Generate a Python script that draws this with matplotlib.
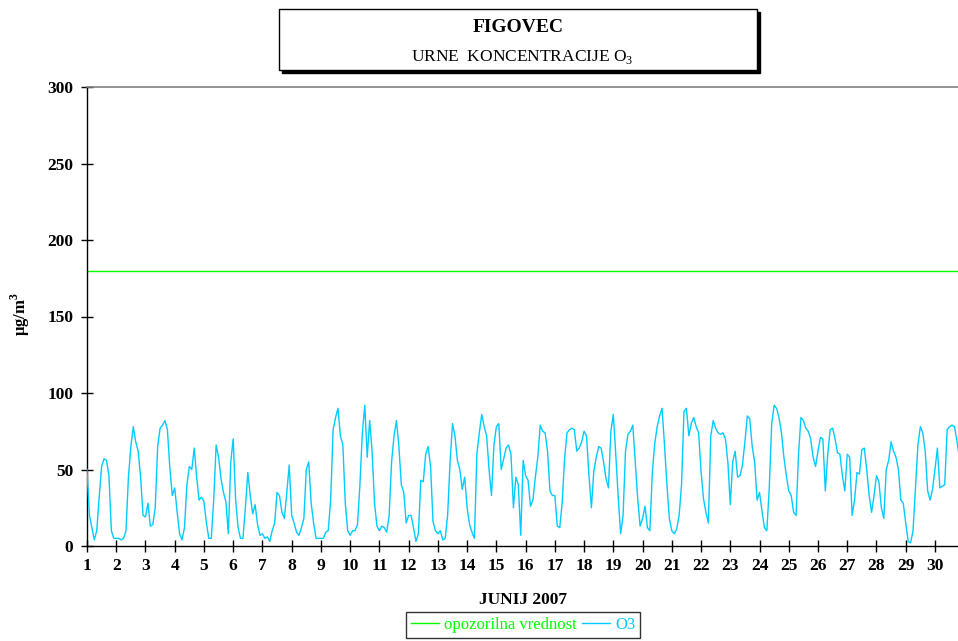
import numpy as np
import matplotlib
matplotlib.use("Agg")
import matplotlib.pyplot as plt
from matplotlib.patches import Rectangle

plt.rcParams['font.family'] = ['Liberation Serif', 'DejaVu Serif']
plt.rcParams['mathtext.fontset'] = 'custom'
plt.rcParams['mathtext.rm'] = 'Liberation Serif'
plt.rcParams['mathtext.bf'] = 'Liberation Serif:bold'

title_main = "FIGOVEC"
title_sub = "URNE  KONCENTRACIJE O$_{3}$"
x_label = "JUNIJ 2007"
y_label = r"µg/m$^{\mathbf{3}}$"
day_ticks = list(range(1, 31))
y_ticks = [0, 50, 100, 150, 200, 250, 300]
alert_value = 180
alert_label = "opozorilna vrednost"
o3_label = "O3"

# O3 concentrations (µg/m3), sampled every 2 hours, one list per day of June 2007
d01 = [50, 20, 12, 4, 10, 32, 52, 57, 56, 46, 10, 5]
d02 = [5, 5, 4, 5, 10, 45, 65, 78, 68, 62, 45, 20]
d03 = [19, 28, 13, 14, 25, 65, 77, 79, 82, 76, 51, 33]
d04 = [38, 22, 8, 4, 12, 40, 52, 50, 64, 45, 30, 32]
d05 = [29, 15, 5, 5, 30, 66, 58, 44, 35, 29, 8, 55]
d06 = [70, 30, 12, 5, 5, 25, 48, 33, 21, 27, 14, 7]
d07 = [8, 5, 6, 3, 10, 15, 35, 33, 22, 18, 35, 53]
d08 = [20, 15, 9, 7, 12, 18, 50, 55, 28, 15, 5, 5]
d09 = [5, 5, 9, 10, 30, 76, 84, 90, 72, 66, 28, 10]
d10 = [7, 10, 10, 14, 40, 74, 92, 58, 82, 62, 28, 13]
d11 = [10, 13, 12, 9, 20, 55, 72, 82, 65, 40, 35, 15]
d12 = [20, 20, 12, 3, 8, 43, 42, 60, 65, 52, 16, 10]
d13 = [8, 10, 4, 5, 20, 55, 80, 72, 56, 50, 37, 45]
d14 = [25, 14, 9, 5, 60, 74, 86, 78, 72, 50, 33, 66]
d15 = [78, 80, 50, 57, 64, 66, 60, 25, 45, 40, 7, 56]
d16 = [46, 43, 26, 30, 45, 58, 79, 75, 74, 62, 36, 33]
d17 = [33, 13, 12, 28, 57, 74, 76, 77, 76, 62, 64, 68]
d18 = [75, 72, 46, 25, 49, 58, 65, 64, 55, 44, 38, 75]
d19 = [86, 60, 32, 8, 20, 62, 73, 75, 79, 55, 31, 13]
d20 = [18, 26, 12, 10, 48, 67, 78, 85, 90, 66, 40, 18]
d21 = [10, 8, 11, 20, 40, 88, 90, 72, 80, 84, 78, 74]
d22 = [49, 31, 22, 15, 72, 82, 77, 74, 73, 74, 70, 55]
d23 = [27, 55, 62, 45, 46, 53, 68, 85, 83, 65, 55, 30]
d24 = [35, 23, 12, 10, 38, 80, 92, 90, 84, 74, 58, 46]
d25 = [36, 33, 22, 20, 60, 84, 82, 77, 75, 70, 58, 52]
d26 = [62, 71, 70, 36, 60, 76, 77, 70, 61, 60, 46, 36]
d27 = [60, 58, 20, 30, 48, 47, 63, 64, 50, 33, 22, 33]
d28 = [46, 42, 25, 18, 50, 56, 68, 62, 58, 50, 30, 28]
d29 = [15, 3, 2, 10, 38, 66, 78, 74, 62, 36, 30, 37]
d30 = [50, 64, 38, 39, 40, 76, 78, 79, 78, 69, 58]

o3 = np.array(d01 + d02 + d03 + d04 + d05 + d06 + d07 + d08 + d09 + d10 +
              d11 + d12 + d13 + d14 + d15 + d16 + d17 + d18 + d19 + d20 +
              d21 + d22 + d23 + d24 + d25 + d26 + d27 + d28 + d29 + d30, dtype=float)
samples_per_day = 12
t = 1 + np.arange(len(o3)) / samples_per_day

W, H = 958, 641
fig = plt.figure(figsize=(W / 100, H / 100), dpi=100)
fig.patch.set_facecolor('white')

ax = fig.add_axes([87 / W, 95 / H, 871 / W, 459 / H])
ax.plot(t, o3, color='#00ccff', lw=1.0, label=o3_label, zorder=3)
ax.axhline(alert_value, color='#00ff00', lw=1.0, label=alert_label, zorder=2)

ax.set_xlim(1, 1 + 871 / 29.24)
ax.set_ylim(0, 300)
ax.set_xticks(day_ticks)
ax.set_xticklabels([str(d) for d in day_ticks], fontsize=12.5, fontweight='bold')
ax.set_yticks(y_ticks)
ax.set_yticklabels([str(v) for v in y_ticks], fontsize=12.5, fontweight='bold')
ax.tick_params(axis='x', direction='inout', length=8, width=1, pad=4.5, colors='black')
ax.tick_params(axis='y', direction='inout', length=8, width=1, pad=6, colors='black')

for s in ['left', 'bottom']:
    ax.spines[s].set_color('black')
    ax.spines[s].set_linewidth(1.0)
ax.spines['top'].set_color('#808080')
ax.spines['top'].set_linewidth(1.2)
ax.spines['right'].set_visible(False)

fig.text(523 / W, 1 - 600 / H, x_label, ha='center', va='center', fontsize=12.5, fontweight='bold')
fig.text(20 / W, 1 - 314 / H, y_label, ha='center', va='center', fontsize=12,
         fontweight='bold', rotation=90)

# title box with shadow
bx0, by0, bx1, by1 = 279, 9, 757, 70
sh = 3
fig.patches.append(Rectangle(((bx0 + sh) / W, 1 - (by1 + sh) / H), (bx1 - bx0) / W, (by1 - by0) / H,
                             transform=fig.transFigure, facecolor='black', edgecolor='black', lw=1, zorder=1))
fig.patches.append(Rectangle((bx0 / W, 1 - by1 / H), (bx1 - bx0) / W, (by1 - by0) / H,
                             transform=fig.transFigure, facecolor='white', edgecolor='black', lw=1, zorder=2))
fig.text(518 / W, 1 - 28 / H, title_main, ha='center', va='center', fontsize=14, fontweight='bold', zorder=3)
fig.text(522 / W, 1 - 57 / H, title_sub, ha='center', va='center', fontsize=12.5, zorder=3)

h, l = ax.get_legend_handles_labels()
leg = fig.legend(h[::-1], l[::-1], loc='upper center', bbox_to_anchor=(523 / W, 1 - 612 / H),
                 ncol=2, frameon=True, fancybox=False, edgecolor='black', fontsize=12,
                 handlelength=1.7, handletextpad=0.3, columnspacing=0.3, borderpad=0.3,
                 borderaxespad=0)
leg.get_frame().set_linewidth(1.0)
for txt, col in zip(leg.get_texts(), ['#00ff00', '#00ccff']):
    txt.set_color(col)

fig.savefig('out.png', dpi=100)
